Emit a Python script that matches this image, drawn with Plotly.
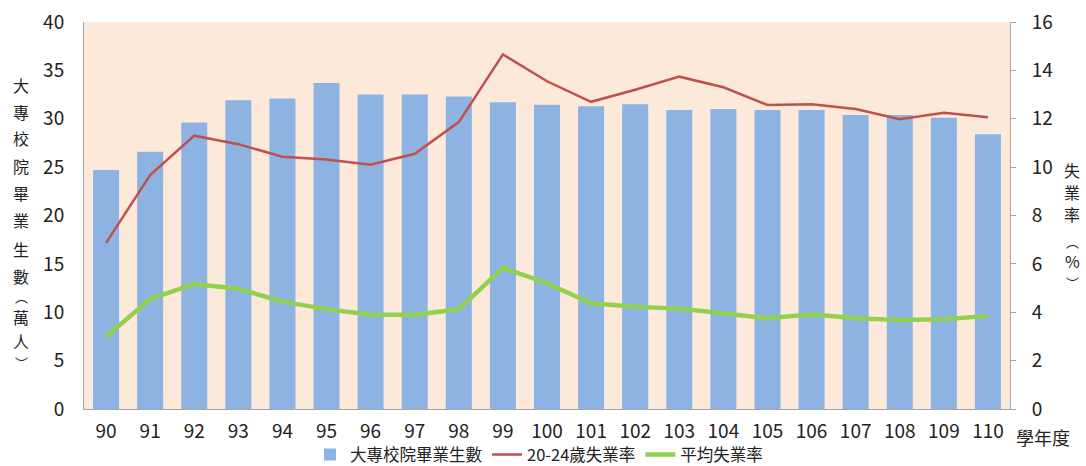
import plotly.graph_objects as go

# 學年度 (academic years)
years = [str(y) for y in range(90, 111)]
# 大專校院畢業生數 (萬人)
graduates = [24.7, 26.6, 29.6, 31.9, 32.1, 33.7, 32.5, 32.5, 32.3, 31.7, 31.45,
             31.3, 31.5, 30.9, 31.0, 30.9, 30.9, 30.4, 30.4, 30.1, 28.4]
# 20-24歲失業率 (%)
rate_20_24 = [6.87, 9.67, 11.3, 10.95, 10.43, 10.32, 10.1, 10.55, 11.86, 14.66, 13.55,
              12.7, 13.2, 13.74, 13.3, 12.57, 12.6, 12.4, 11.98, 12.25, 12.06]
# 平均失業率 (%)
rate_avg = [2.99, 4.55, 5.17, 4.97, 4.44, 4.13, 3.9, 3.9, 4.12, 5.84, 5.2,
            4.37, 4.23, 4.15, 3.96, 3.75, 3.92, 3.75, 3.68, 3.71, 3.85]

# Axis titles, written top-to-bottom one character at a time
left_title_chars = ["大", "專", "校", "院", "畢", "業", "生", "數", "︵", "萬", "人", "︶"]
right_title_chars = ["失", "業", "率", "︵", "%", "︶"]

FONT = "Noto Sans CJK TC"
TXT = "#222222"
W, H = 1086, 466
M_L, M_R, M_T, M_B = 84, 76, 22, 57
BRACKETS = {"︵", "︶"}

fig = go.Figure()
fig.add_trace(go.Bar(x=years, y=graduates, name="大專校院畢業生數",
                     marker=dict(color="#8DB3E2", line=dict(width=0))))
fig.add_trace(go.Scatter(x=years, y=rate_20_24, name="20-24歲失業率", mode="lines",
                         line=dict(color="#C0504D", width=2.5), yaxis="y2"))
fig.add_trace(go.Scatter(x=years, y=rate_avg, name="平均失業率", mode="lines",
                         line=dict(color="#92D050", width=4.5), yaxis="y2"))

fig.update_layout(
    width=W, height=H,
    margin=dict(l=M_L, r=M_R, t=M_T, b=M_B, autoexpand=False),
    paper_bgcolor="white",
    plot_bgcolor="#FDE9DA",
    font=dict(family=FONT, size=18, color=TXT),
    bargap=0.41,
    showlegend=True,
    legend=dict(orientation="h", yref="container", x=0.5 - 8 / (W - M_L - M_R),
                xanchor="center", y=0.024, yanchor="middle",
                font=dict(size=16.5, color=TXT), bgcolor="rgba(0,0,0,0)",
                itemwidth=30),
    xaxis=dict(type="category", showline=True, linecolor="#A6A6A6", linewidth=1,
               ticks="", showgrid=False, tickfont=dict(size=19), ticklabelstandoff=5),
    yaxis=dict(range=[0, 40], dtick=5, showline=True, linecolor="#A6A6A6", linewidth=1,
               ticks="", showgrid=False, zeroline=False, tickfont=dict(size=19),
               ticklabelstandoff=15),
    yaxis2=dict(range=[0, 16], dtick=2, overlaying="y", side="right", showline=True,
                linecolor="#A6A6A6", linewidth=1, ticks="outside", ticklen=5,
                tickcolor="#A6A6A6", showgrid=False, zeroline=False,
                tickfont=dict(size=19), ticklabelstandoff=12),
)


def paper_y(py):
    """Convert a pixel row of the page into paper y coordinates."""
    return (H - M_B - py) / (H - M_T - M_B)


def char_font(ch):
    return dict(size=13 if ch in BRACKETS else 16, color=TXT, family=FONT)


left_rows = [85, 112, 138, 166, 193, 220, 249, 276, 296, 317, 341, 362]
for ch, py in zip(left_title_chars, left_rows):
    fig.add_annotation(text=ch, xref="paper", yref="paper", x=0, xshift=21 - M_L,
                       y=paper_y(py), xanchor="center", yanchor="middle",
                       showarrow=False, borderpad=0, font=char_font(ch))

right_rows = [170, 192, 214, 241, 261, 282]
for ch, py in zip(right_title_chars, right_rows):
    fig.add_annotation(text=ch, xref="paper", yref="paper", x=1, xshift=1072 - (W - M_R),
                       y=paper_y(py), xanchor="center", yanchor="middle",
                       showarrow=False, borderpad=0, font=char_font(ch))

fig.add_annotation(text="學年度", xref="paper", yref="paper", x=1, xshift=1043 - (W - M_R),
                   y=0, yshift=-28, xanchor="center", yanchor="middle", showarrow=False,
                   font=dict(size=18, color=TXT, family=FONT))

fig.write_html("out.html")
